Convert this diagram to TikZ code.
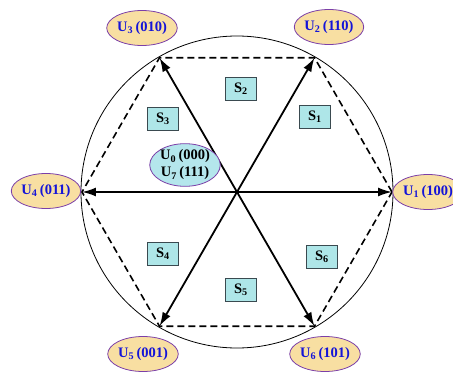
\documentclass[tikz,border=0pt]{standalone}
\usepackage{fontspec}
\setmainfont{Liberation Serif}
\usetikzlibrary{arrows.meta,shapes.geometric}
\definecolor{vecFill}{HTML}{F8DFA2}
\definecolor{vecDraw}{HTML}{7B3FA8}
\definecolor{vecText}{HTML}{1414D8}
\definecolor{secFill}{HTML}{AEE6E8}
\definecolor{secDraw}{HTML}{3A4A50}
\definecolor{zeroFill}{HTML}{B4E6EC}

\begin{document}
\begin{tikzpicture}[
    x=1pt,y=1pt,
    every node/.style={font=\fontsize{14.5}{15}\selectfont\bfseries,align=center},
    vec/.style={ellipse,draw=vecDraw,fill=vecFill,line width=0.8pt,text=vecText,minimum width=64pt,minimum height=35pt,inner sep=0pt},
    zero/.style={ellipse,draw=vecDraw,fill=zeroFill,line width=0.8pt,minimum width=70pt,minimum height=41pt,inner sep=0pt},
    sector/.style={draw=secDraw,fill=secFill,line width=0.8pt,minimum width=31pt,minimum height=23pt,inner sep=0pt},
    active/.style={-{Latex[length=14pt,width=9pt]},line width=1.8pt},
    hexedge/.style={dashed,dash pattern=on 7pt off 4pt,line width=1.6pt}
]
\useasboundingbox (-237,-181) rectangle (216,192);
\coordinate (O) at (0,0);
\coordinate (v1) at (0:155);
\coordinate (v2) at (60:155);
\coordinate (v3) at (120:155);
\coordinate (v4) at (180:155);
\coordinate (v5) at (240:155);
\coordinate (v6) at (300:155);

\draw[line width=0.8pt] (O) circle (156);
\draw[hexedge] (v1) -- (v2) -- (v3) -- (v4) -- (v5) -- (v6) -- cycle;

\draw[active] (O) -- (v1);
\draw[active] (O) -- (v2);
\draw[active] (O) -- (v3);
\draw[active] (O) -- (v4);
\draw[active] (O) -- (v5);
\draw[active] (O) -- (v6);

\node[vec] (u1) at (191,0) {U\textsubscript{1}\,(100)};
\node[vec] (u2) at (92,165) {U\textsubscript{2}\,(110)};
\node[vec] (u3) at (-95,164) {U\textsubscript{3}\,(010)};
\node[vec] (u4) at (-191,1) {U\textsubscript{4}\,(011)};
\node[vec] (u5) at (-94,-162) {U\textsubscript{5}\,(001)};
\node[vec] (u6) at (88,-162) {U\textsubscript{6}\,(101)};
\node[zero] (u0) at (-52,27) {U\textsubscript{0}\,(000)\\[2pt]U\textsubscript{7}\,(111)};

\node[sector] (s1) at (78,75) {S\textsubscript{1}};
\node[sector] (s2) at (4,103) {S\textsubscript{2}};
\node[sector] (s3) at (-74,73) {S\textsubscript{3}};
\node[sector] (s4) at (-74,-62) {S\textsubscript{4}};
\node[sector] (s5) at (4,-98) {S\textsubscript{5}};
\node[sector] (s6) at (85,-65) {S\textsubscript{6}};
\end{tikzpicture}
\end{document}
